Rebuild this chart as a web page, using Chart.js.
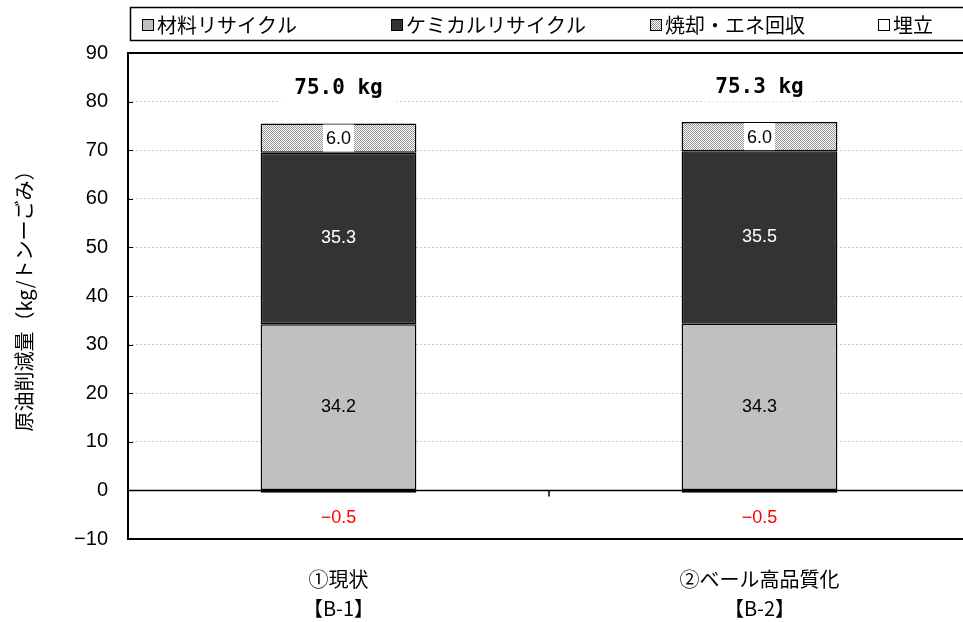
<!DOCTYPE html>
<html>
<head>
<meta charset="utf-8">
<script src="https://cdn.jsdelivr.net/npm/chart.js@4"></script>
<style>
  html, body { margin: 0; padding: 0; background: #fff; overflow: hidden; }
  #wrap { width: 980px; height: 622px; }
</style>
</head>
<body>
<div id="wrap"><canvas id="my-chart" width="980" height="622"></canvas></div>
<script>
'use strict';

// >>> data <<<
const categories = [['①現状', '【B-1】'], ['②ベール高品質化', '【B-2】']];
const seriesNames = ['材料リサイクル', 'ケミカルリサイクル', '焼却・エネ回収', '埋立'];
const materialRecycle = [34.2, 34.3];
const chemicalRecycle = [35.3, 35.5];
const incineration = [6.0, 6.0];
const landfill = [-0.5, -0.5];
const totals = [75.0, 75.3];
const yMin = -10;
const yMax = 90;
const yStep = 10;

const jpFont = '"Noto Sans CJK JP", "Liberation Sans", sans-serif';
const numFont = '"Liberation Sans", Arial, sans-serif';
const monoFont = '"DejaVu Sans Mono", "Liberation Mono", monospace';

// hatched fill for the incineration series
function makeHatch() {
  let c = document.createElement('canvas');
  c.width = 2;
  c.height = 2;
  let g = c.getContext('2d');
  g.fillStyle = '#ffffff';
  g.fillRect(0, 0, 2, 2);
  g.fillStyle = '#959595';
  g.fillRect(0, 0, 1, 1);
  g.fillRect(1, 1, 1, 1);
  return g.createPattern(c, 'repeat');
}
const hatch = makeHatch();

// >>> custom drawing: frame, zero line, labels, legend <<<
const extrasPlugin = {
  id: 'extras',
  afterDatasetsDraw(chart) {
    const ctx = chart.ctx;
    const area = chart.chartArea;
    const x = chart.scales.x;
    const y = chart.scales.y;
    ctx.save();

    // zero line + small tick between categories
    let y0 = Math.round(y.getPixelForValue(0)) + 0.5;
    ctx.strokeStyle = '#000';
    ctx.lineWidth = 1.5;
    ctx.beginPath();
    ctx.moveTo(area.left, y0);
    ctx.lineTo(area.right, y0);
    let mid = (x.getPixelForValue(0) + x.getPixelForValue(1)) / 2;
    ctx.moveTo(mid, y0);
    ctx.lineTo(mid, y0 + 6);
    ctx.stroke();

    // y ticks pointing inside
    ctx.lineWidth = 1;
    for (let v = yMin; v <= yMax; v += yStep) {
      let py = Math.round(y.getPixelForValue(v)) + 0.5;
      ctx.beginPath();
      ctx.moveTo(area.left, py);
      ctx.lineTo(area.left + 5, py);
      ctx.stroke();
    }

    // plot frame
    ctx.lineWidth = 2;
    ctx.strokeRect(area.left, area.top, area.right - area.left, area.bottom - area.top);

    // segment labels
    ctx.textAlign = 'center';
    ctx.textBaseline = 'middle';
    for (let i = 0; i < categories.length; i++) {
      ctx.font = '18px ' + numFont;
      let cx = x.getPixelForValue(i);
      let m = chart.getDatasetMeta(0).data[i];
      ctx.fillStyle = '#000';
      ctx.fillText(materialRecycle[i].toFixed(1), cx, (m.y + m.base) / 2);

      let c = chart.getDatasetMeta(1).data[i];
      ctx.fillStyle = '#fff';
      ctx.fillText(chemicalRecycle[i].toFixed(1), cx, (c.y + c.base) / 2);

      let h = chart.getDatasetMeta(2).data[i];
      let hy = (h.y + h.base) / 2;
      let hw = ctx.measureText(incineration[i].toFixed(1)).width + 6;
      ctx.fillStyle = '#fff';
      ctx.fillRect(cx - hw / 2, h.y + 1, hw, h.base - h.y - 2);
      ctx.fillStyle = '#000';
      ctx.fillText(incineration[i].toFixed(1), cx, hy + 1);

      // landfill label below the axis
      ctx.fillStyle = '#ff0000';
      ctx.fillText('\u2212' + Math.abs(landfill[i]).toFixed(1), cx, y.getPixelForValue(-5.6));

      // total label in a white box
      ctx.font = 'bold 21px ' + monoFont;
      let ty = y.getPixelForValue(totals[i]) - 37;
      ctx.fillStyle = '#fff';
      ctx.fillRect(cx - 58, ty - 14, 116, 28);
      ctx.fillStyle = '#000';
      ctx.fillText(totals[i].toFixed(1) + ' kg', cx, ty);
    }

    // legend box
    ctx.lineWidth = 1.5;
    ctx.strokeStyle = '#000';
    ctx.strokeRect(130.5, 7.5, 850, 33);
    let fills = ['#c0c0c0', '#333333', hatch, '#ffffff'];
    let lx = [142, 391, 650, 878];
    ctx.font = '20px ' + jpFont;
    ctx.textAlign = 'left';
    for (let k = 0; k < seriesNames.length; k++) {
      ctx.fillStyle = fills[k];
      ctx.fillRect(lx[k], 19, 12, 12);
      ctx.lineWidth = 1;
      ctx.strokeRect(lx[k] + 0.5, 19.5, 11, 11);
      ctx.fillStyle = '#000';
      ctx.fillText(seriesNames[k], lx[k] + 15, 25);
    }
    ctx.restore();
  }
};

function makeDataset(label, data, color) {
  return {
    label: label,
    data: data,
    backgroundColor: color,
    borderColor: '#000',
    borderWidth: 1.5,
    borderSkipped: false,
    categoryPercentage: 1,
    barPercentage: 0.37
  };
}

let canvasElement = document.getElementById('my-chart').getContext('2d');
let myChart = new Chart(canvasElement, {
  type: 'bar',
  data: {
    labels: categories,
    datasets: [
      makeDataset(seriesNames[0], materialRecycle, '#c0c0c0'),
      makeDataset(seriesNames[1], chemicalRecycle, '#333333'),
      makeDataset(seriesNames[2], incineration, hatch),
      makeDataset(seriesNames[3], landfill, '#ffffff')
    ]
  },
  options: {
    responsive: false,
    animation: false,
    layout: { padding: { top: 53, right: 10, left: 0, bottom: 0 } },
    plugins: {
      legend: { display: false },
      tooltip: { enabled: false }
    },
    scales: {
      x: {
        stacked: true,
        grid: { display: false },
        border: { display: false },
        ticks: {
          color: '#000',
          font: { family: jpFont, size: 20, lineHeight: 1.45 },
          padding: 18
        },
        afterFit: (s) => { s.height = 83; }
      },
      y: {
        stacked: true,
        min: yMin,
        max: yMax,
        ticks: {
          stepSize: yStep,
          color: '#000',
          font: { family: numFont, size: 20 },
          padding: 20,
          callback: (v) => (v < 0 ? '\u2212' + Math.abs(v) : v)
        },
        grid: {
          color: (c) => (c.tick.value === 0 || c.tick.value === yMin ? 'rgba(0,0,0,0)' : '#c8c8c8'),
          drawTicks: false
        },
        border: { display: false, dash: [2, 2] },
        title: {
          display: true,
          text: '原油削減量（kg/トンーごみ）',
          color: '#000',
          font: { family: jpFont, size: 20 },
          padding: { top: 12, bottom: 0 }
        },
        afterFit: (s) => { s.width = 128; }
      }
    }
  },
  plugins: [extrasPlugin]
});
</script>
</body>
</html>
